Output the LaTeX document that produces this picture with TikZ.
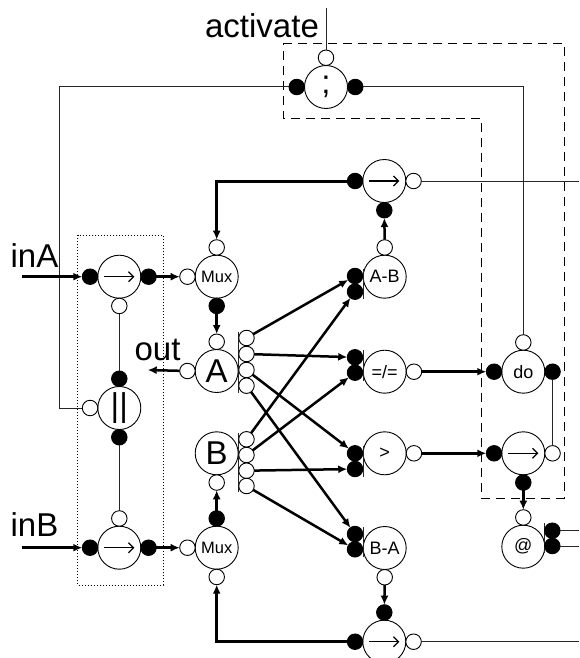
\documentclass[tikz,border=0pt]{standalone}
\usepackage{fontspec}
\setmainfont{Liberation Sans}
\usetikzlibrary{arrows.meta,positioning}

\begin{document}
\begin{tikzpicture}[x=1pt,y=-1pt,
 big/.style={draw,circle,fill=white,inner sep=0pt,outer sep=0pt,minimum size=43pt,line width=.9pt,font=\fontsize{18}{18}\selectfont},
 huge/.style={big,font=\fontsize{33}{33}\selectfont},
 mux/.style={big,font=\fontsize{16.5}{16.5}\selectfont},
 wht/.style={draw,circle,fill=white,inner sep=0pt,outer sep=0pt,minimum size=15.5pt,line width=.9pt},
 blk/.style={wht,fill=black},
 label/.style={inner sep=0pt,font=\fontsize{33}{33}\selectfont},
 thin line/.style={line width=1pt,draw=black!85},
 arrow/.style={-{Latex[length=9pt,width=8pt]},line width=2.5pt},
 heavy/.style={arrow,line width=3pt},
 glyph/.style={-{Straight Barb[length=5pt,width=10pt]},line width=1.2pt},
 bar/.style={line width=.9pt,draw=black!85}]
\useasboundingbox (0,0) rectangle (579,658);
\clip (0,0) rectangle (579,658);
% dashed and dotted boxes
\draw[dash pattern=on 9pt off 6pt,line width=.9pt] (283,43)--(564,43)--(564,498)--(481,498)--(481,118)--(283,118)--cycle;
\draw[dotted,line width=1pt] (77.7,235) rectangle (163,585);
% operators
\node[huge] (seq) at (326,87) {;};
\node[big] (thenT) at (384.3,181) {};
\node[big] (thenL) at (384.3,641.7) {};
\node[big] (thenA) at (119.3,276.7) {};
\node[big] (thenB) at (119.3,547.7) {};
\node[huge] (par) at (119.3,408) {||};
\node[mux] (muxA) at (216.7,276.7) {Mux};
\node[mux] (muxB) at (216.7,547.7) {Mux};
\node[huge] (regA) at (216.7,371) {A};
\node[huge] (regB) at (216.7,453.3) {B};
\node[big] (sub) at (384.7,276.7) {A-B};
\node[big] (neq) at (384.7,371.7) {=/=};
\node[big] (gt) at (384.7,453.3) {>};
\node[big] (rsub) at (384.7,548) {B-A};
\node[big] (do) at (523.3,371.7) {do};
\node[big] (thenR) at (523.3,453.3) {};
\node[big] (at) at (523.3,546.7) {@};
% ports
\node[wht,above=0pt of seq] (seqIn) {};
\node[blk,left=0pt of seq] (seqL) {};
\node[blk,right=0pt of seq] (seqR) {};
\node[blk,left=0pt of thenT] (thenTL) {};
\node[wht,right=0pt of thenT] (thenTR) {};
\node[blk,below=0pt of thenT] (thenTB) {};
\node[blk,left=0pt of thenL] (thenLL) {};
\node[wht,right=0pt of thenL] (thenLR) {};
\node[blk,above=0pt of thenL] (thenLT) {};
\node[blk,left=0pt of thenA] (thenAL) {};
\node[blk,right=0pt of thenA] (thenAR) {};
\node[wht,below=0pt of thenA] (thenAB) {};
\node[blk,left=0pt of thenB] (thenBL) {};
\node[blk,right=0pt of thenB] (thenBR) {};
\node[wht,above=0pt of thenB] (thenBT) {};
\node[blk,above=0pt of par] (parT) {};
\node[blk,below=0pt of par] (parB) {};
\node[wht,left=0pt of par] (parL) {};
\node[wht,left=0pt of muxA] (muxAL) {};
\node[wht,above=0pt of muxA] (muxAT) {};
\node[blk,below=0pt of muxA] (muxAB) {};
\node[wht,left=0pt of muxB] (muxBL) {};
\node[wht,below=0pt of muxB] (muxBB) {};
\node[blk,above=0pt of muxB] (muxBT) {};
\node[wht,above=0pt of regA] (regAT) {};
\node[wht,left=0pt of regA] (regAL) {};
\node[wht,below=0pt of regB] (regBB) {};
\node[wht,above=0pt of sub] (subT) {};
\node[wht,right=0pt of neq] (neqR) {};
\node[wht,right=0pt of gt] (gtR) {};
\node[wht,below=0pt of rsub] (rsubB) {};
\node[wht,above=0pt of do] (doT) {};
\node[blk,left=0pt of do] (doL) {};
\node[blk,right=0pt of do] (doR) {};
\node[blk,left=0pt of thenR] (thenRL) {};
\node[wht,right=0pt of thenR] (thenRR) {};
\node[blk,below=0pt of thenR] (thenRB) {};
\node[wht,above=0pt of at] (atT) {};
% stacked ports with their bars
\draw[bar] (238.5,331.7)--(238.5,392.7);
\draw[bar] (238.5,432.7)--(238.5,491.7);
\draw[bar] (363.3,269.3)--(363.3,299);
\draw[bar] (363.3,350)--(363.3,380.7);
\draw[bar] (363.3,446)--(363.3,476.7);
\draw[bar] (363.3,527)--(363.3,557);
\draw[bar] (544.3,523)--(544.3,553);
\node[wht] (outA1) at (246.5,338) {};
\node[wht] (outA2) at (246.5,354) {};
\node[wht] (outA3) at (246.5,370) {};
\node[wht] (outA4) at (246.5,385.7) {};
\node[wht] (outB1) at (246.5,439.3) {};
\node[wht] (outB2) at (246.5,455) {};
\node[wht] (outB3) at (246.5,470.7) {};
\node[wht] (outB4) at (246.5,486) {};
\node[blk] (subA) at (355,276) {};
\node[blk] (subB) at (355,291.7) {};
\node[blk] (neqA) at (355,357.3) {};
\node[blk] (neqB) at (355,372.7) {};
\node[blk] (gtA) at (355,453.3) {};
\node[blk] (gtB) at (355,469) {};
\node[blk] (rsubA) at (355,534) {};
\node[blk] (rsubC) at (355,549.3) {};
\node[blk] (atR1) at (552.3,530.7) {};
\node[blk] (atR2) at (552.3,546) {};
% glyphs
\draw[glyph] ([xshift=-15pt]thenT.center)--([xshift=15pt]thenT.center);
\draw[glyph] ([xshift=-15pt]thenL.center)--([xshift=15pt]thenL.center);
\draw[glyph] ([xshift=-15pt]thenA.center)--([xshift=15pt]thenA.center);
\draw[glyph] ([xshift=-15pt]thenB.center)--([xshift=15pt]thenB.center);
\draw[glyph] ([xshift=-15pt]thenR.center)--([xshift=15pt]thenR.center);
% labels
\node[label,anchor=base] (activate) at (262,38) {activate};
\node[label,anchor=base] (inA) at (34.5,267.7) {inA};
\node[label,anchor=base] (inB) at (34.5,536.7) {inB};
\node[label,anchor=base] (out) at (157.5,360) {out};
% free ends
\coordinate (topEnd) at (326,8);
\coordinate (bendT) at (59.5,87);
\coordinate (rightT) at (579,181);
\coordinate (rightL) at (579,641.7);
\coordinate (rightR1) at (579,530.7);
\coordinate (rightR2) at (579,546);
\coordinate (startA) at (21.7,276.7);
\coordinate (startB) at (21.7,547.7);
\coordinate (outEnd) at (147.7,370);
% thin wires
\draw[thin line] (topEnd)--(seqIn);
\draw[thin line] (seqL)--(bendT)|-(parL);
\draw[thin line] (seqR)-|(doT);
\draw[thin line] (thenTR)--(rightT);
\draw[thin line] (thenLR)--(rightL);
\draw[thin line] (atR1)--(rightR1);
\draw[thin line] (atR2)--(rightR2);
\draw[thin line] (thenAB)--(parT);
\draw[thin line] (parB)--(thenBT);
\draw[thin line] (doR)--(thenRR);
% thick wires
\draw[arrow] (startA)--(thenAL);
\draw[arrow] (startB)--(thenBL);
\draw[arrow] (thenAR)--(muxAL);
\draw[arrow] (thenBR)--(muxBL);
\draw[arrow] (muxAB)--(regAT);
\draw[arrow] (muxBT)--(regBB);
\draw[arrow] (regAL)--(outEnd);
\draw[heavy] (thenTL)-|(muxAT);
\draw[heavy] (thenLL)-|(muxBB);
\draw[arrow] (subT)--(thenTB);
\draw[arrow] (rsubB)--(thenLT);
\draw[arrow] (neqR)--(doL);
\draw[arrow] (gtR)--(thenRL);
\draw[arrow] (thenRB)--(atT);
\draw[arrow] (outA1)--(subA);
\draw[arrow] (outA2)--(neqA);
\draw[arrow] (outA3)--(gtA);
\draw[arrow] (outA4)--(rsubA);
\draw[arrow] (outB1)--(subB);
\draw[arrow] (outB2)--(neqB);
\draw[arrow] (outB3)--(gtB);
\draw[arrow] (outB4)--(rsubC);
\end{tikzpicture}
\end{document}
